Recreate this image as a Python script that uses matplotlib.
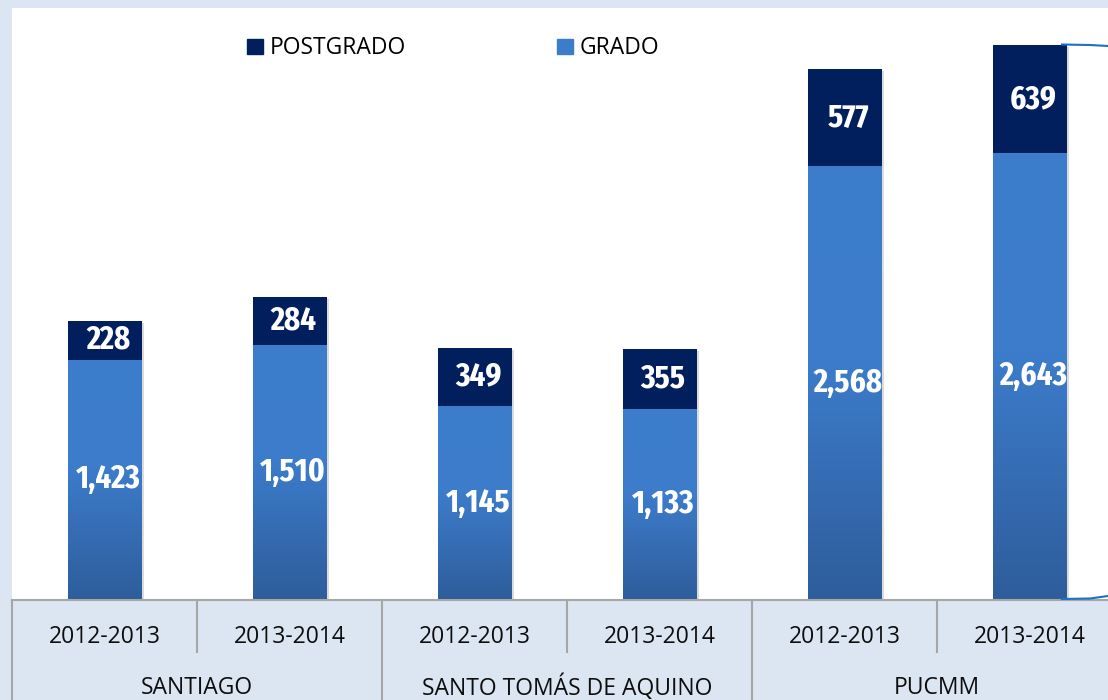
import numpy as np
import matplotlib.pyplot as plt
import matplotlib.patheffects as pe
import matplotlib.font_manager as fm
from matplotlib.colors import LinearSegmentedColormap
from matplotlib.patches import Patch
from matplotlib.lines import Line2D

# matricula por sede y año academico
years = ["2012-2013", "2013-2014", "2012-2013", "2013-2014", "2012-2013", "2013-2014"]
campuses = ["SANTIAGO", "SANTO TOMÁS DE AQUINO", "PUCMM"]
grado = [1423, 1510, 1145, 1133, 2568, 2643]
postgrado = [228, 284, 349, 355, 577, 639]

NAVY = "#001f5c"
BLUE = "#3c7dcb"
PANEL = "#dce6f2"
GRID = "#a6a6a6"
text_font = ["Open Sans", "DejaVu Sans"]


def label_props():
    """pick a narrow bold face for the value labels, if one is installed"""
    ranked = []
    for f in fm.fontManager.ttflist:
        w = f.weight if not isinstance(f.weight, str) else fm.weight_dict.get(f.weight, 400)
        if w < 600 or "Italic" in f.fname:
            continue
        name = f.name + " " + f.fname
        if "ExtraCondensed" in name or "Extra Condensed" in name or f.stretch == "extra-condensed":
            ranked.append((0, abs(w - 700), 24, f.fname))
        elif "SemiCondensed" in name or f.stretch == "semi-condensed":
            ranked.append((3, abs(w - 700), 20, f.fname))
        elif "Condensed" in name or f.stretch == "condensed":
            ranked.append((1, abs(w - 700), 21, f.fname))
        elif "Narrow" in name:
            ranked.append((2, abs(w - 700), 22, f.fname))
    if ranked:
        ranked.sort()
        return fm.FontProperties(fname=ranked[0][3], size=ranked[0][2])
    return fm.FontProperties(family="Roboto", weight="bold", size=19)


lab = label_props()

fig = plt.figure(figsize=(11.08, 7), dpi=100)
fig.patch.set_facecolor(PANEL)
# plot area runs a little past the right edge, like the cropped slide
ax = fig.add_axes([12 / 1108, 100 / 700, 1110 / 1108, 592 / 700])
ax.set_facecolor("white")

x = np.arange(len(grado))
shadow = [pe.SimplePatchShadow(offset=(1.5, -1.5), shadow_rgbFace="#999999", alpha=0.35), pe.Normal()]
bars_g = ax.bar(x, grado, width=0.4, color=BLUE, zorder=2, path_effects=shadow)
bars_p = ax.bar(x, postgrado, width=0.4, bottom=grado, color=NAVY, zorder=2, path_effects=shadow)

# vertical gradient on the GRADO segments
grad_cmap = LinearSegmentedColormap.from_list("grado", [(0, "#2e5d9b"), (0.55, "#3c7ccb"), (1, "#3c7ecc")])
grad = np.linspace(0, 1, 256).reshape(-1, 1)
for b in bars_g:
    x0, y0 = b.get_xy()
    im = ax.imshow(grad, cmap=grad_cmap, origin="lower", aspect="auto",
                   extent=[x0, x0 + b.get_width(), y0, y0 + b.get_height()], zorder=2.1)
    im.set_clip_path(b)

for i in range(len(grado)):
    ax.text(x[i] + 0.02, grado[i] / 2, f"{grado[i]:,}", ha="center", va="center",
            color="white", fontproperties=lab, zorder=3)
    ax.text(x[i] + 0.02, grado[i] + postgrado[i] / 2, f"{postgrado[i]:,}", ha="center", va="center",
            color="white", fontproperties=lab, zorder=3)

ax.set_xlim(-0.5, len(grado) - 0.5)
ax.set_ylim(0, 3503)
ax.set_xticks([])
ax.set_yticks([])
for s in ["top", "right", "left"]:
    ax.spines[s].set_visible(False)
ax.spines["bottom"].set_color(GRID)
ax.spines["bottom"].set_linewidth(1.5)

# two-level category table under the bars
tr = ax.get_xaxis_transform()
row1 = -52 / 592
bottom = -110 / 592
for i, yr in enumerate(years):
    ax.text(x[i], -37 / 592, yr, transform=tr, ha="center", va="center",
            fontsize=16.5, color="#0d0d0d", family=text_font)
for k in range(len(grado) + 1):
    xb = k - 0.5
    y_end = bottom if k % 2 == 0 else row1
    ax.plot([xb, xb], [0, y_end], transform=tr, color=GRID, lw=1.5, clip_on=False)
for j, name in enumerate(campuses):
    ax.text(2 * j + 0.5, -88 / 592, name, transform=tr, ha="center", va="center",
            fontsize=16.5, color="#0d0d0d", family=text_font)

handles = [Patch(color=NAVY), Patch(color=BLUE)]
fig.legend(handles, ["POSTGRADO", "GRADO"], loc="center", bbox_to_anchor=(453 / 1108, 1 - 48.5 / 700),
           ncol=2, frameon=False, prop={"family": text_font, "size": 16.5},
           handlelength=0.68, handleheight=0.68, handletextpad=0.3, columnspacing=6.6)

# edge of the brace that sits beside the chart on the slide
for pts in ([(1062, 44.5), (1090, 45), (1108, 46)], [(1062, 599), (1090, 598.5), (1108, 596)]):
    xs = [p[0] / 1108 for p in pts]
    ys = [1 - p[1] / 700 for p in pts]
    fig.add_artist(Line2D(xs, ys, color="#1e6fc6", lw=1.5))

fig.savefig("out.png", dpi=100, facecolor=fig.get_facecolor())
